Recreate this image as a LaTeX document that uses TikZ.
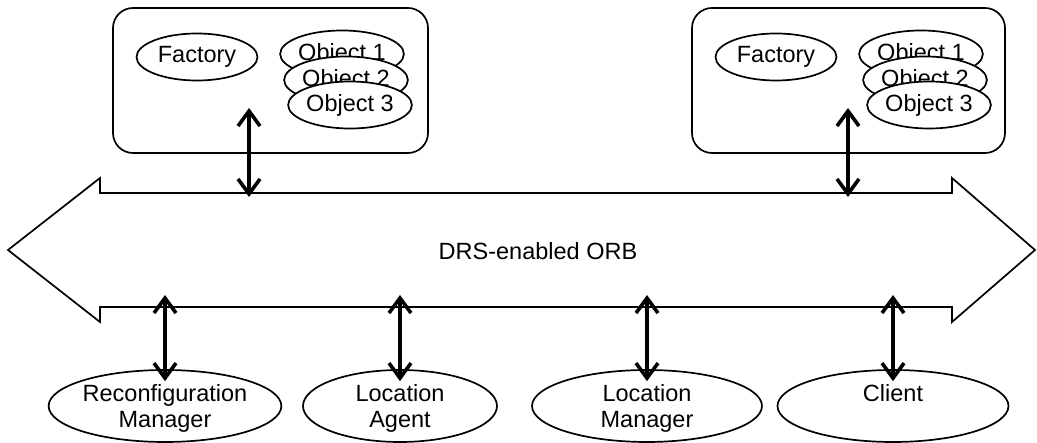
\documentclass[tikz,border=0pt]{standalone}
\usepackage{fontspec}
\setmainfont{Liberation Sans}
\usetikzlibrary{shapes.geometric,arrows.meta}

\begin{document}
\begin{tikzpicture}[x=1pt,y=-1pt,
  thinline/.style={line width=1.7pt},
  host/.style={draw, thinline, rounded corners=20pt, inner sep=0pt},
  oval/.style={ellipse, draw, thinline, fill=white, inner sep=0pt,
               font=\fontsize{23.5}{26.5}\selectfont, align=center},
  smalloval/.style={oval, minimum width=121pt, minimum height=47pt},
  bigoval/.style={oval, minimum height=72pt, text depth=0pt},
  link/.style={line width=3.6pt,
               {Straight Barb[length=15pt,width=22pt]}-{Straight Barb[length=15pt,width=22pt]}}
]
\useasboundingbox (0,0) rectangle (1037,443);

% server hosts
\node[host, minimum width=315pt, minimum height=145pt] (hostL) at (270.5,80.5) {};
\node[host, minimum width=313pt, minimum height=145pt] (hostR) at (848.5,80.5) {};

\node[smalloval] (facL) at (197,57) {Factory};
\node[smalloval] (objLa) at (342,54) {Object 1};
\node[smalloval] (objLb) at (346,80) {Object 2};
\node[smalloval] (objLc) at (350,105) {Object 3};

\node[smalloval] (facR) at (776,57) {Factory};
\node[smalloval] (objRa) at (921,54) {Object 1};
\node[smalloval] (objRb) at (925,80) {Object 2};
\node[smalloval] (objRc) at (929,105) {Object 3};

% the ORB as a wide double-headed arrow
\draw[thinline, line join=miter] (8,250) -- (100,178) -- (100,193) -- (952,193)
  -- (952,178) -- (1035,250) -- (952,322) -- (952,307) -- (100,307)
  -- (100,322) -- cycle;
\node[font=\fontsize{23.5}{26.5}\selectfont] (orb) at (538,251.5) {DRS-enabled ORB};

% ORB clients and services
\node[bigoval, minimum width=230pt] (rm) at (165,406) {Reconfiguration\\Manager};
\node[bigoval, minimum width=194pt] (la) at (400,406) {Location\\Agent};
\node[bigoval, minimum width=230pt] (lm) at (647,406) {Location\\Manager};
\node[bigoval, minimum width=231pt] (cl) at (893,406) {Client\\\strut};

% attachment points
\coordinate (tapL) at (249,108);
\coordinate (busL) at (249,197);
\coordinate (tapR) at (848,108);
\coordinate (busR) at (848,197);
\coordinate (busA) at (165,295);
\coordinate (busB) at (400,295);
\coordinate (busC) at (647,295);
\coordinate (busD) at (893,295);

\draw[link] (tapL) -- (busL);
\draw[link] (tapR) -- (busR);
\draw[link] (busA) -- ([yshift=-12pt]rm.north);
\draw[link] (busB) -- ([yshift=-12pt]la.north);
\draw[link] (busC) -- ([yshift=-12pt]lm.north);
\draw[link] (busD) -- ([yshift=-12pt]cl.north);
\end{tikzpicture}
\end{document}
